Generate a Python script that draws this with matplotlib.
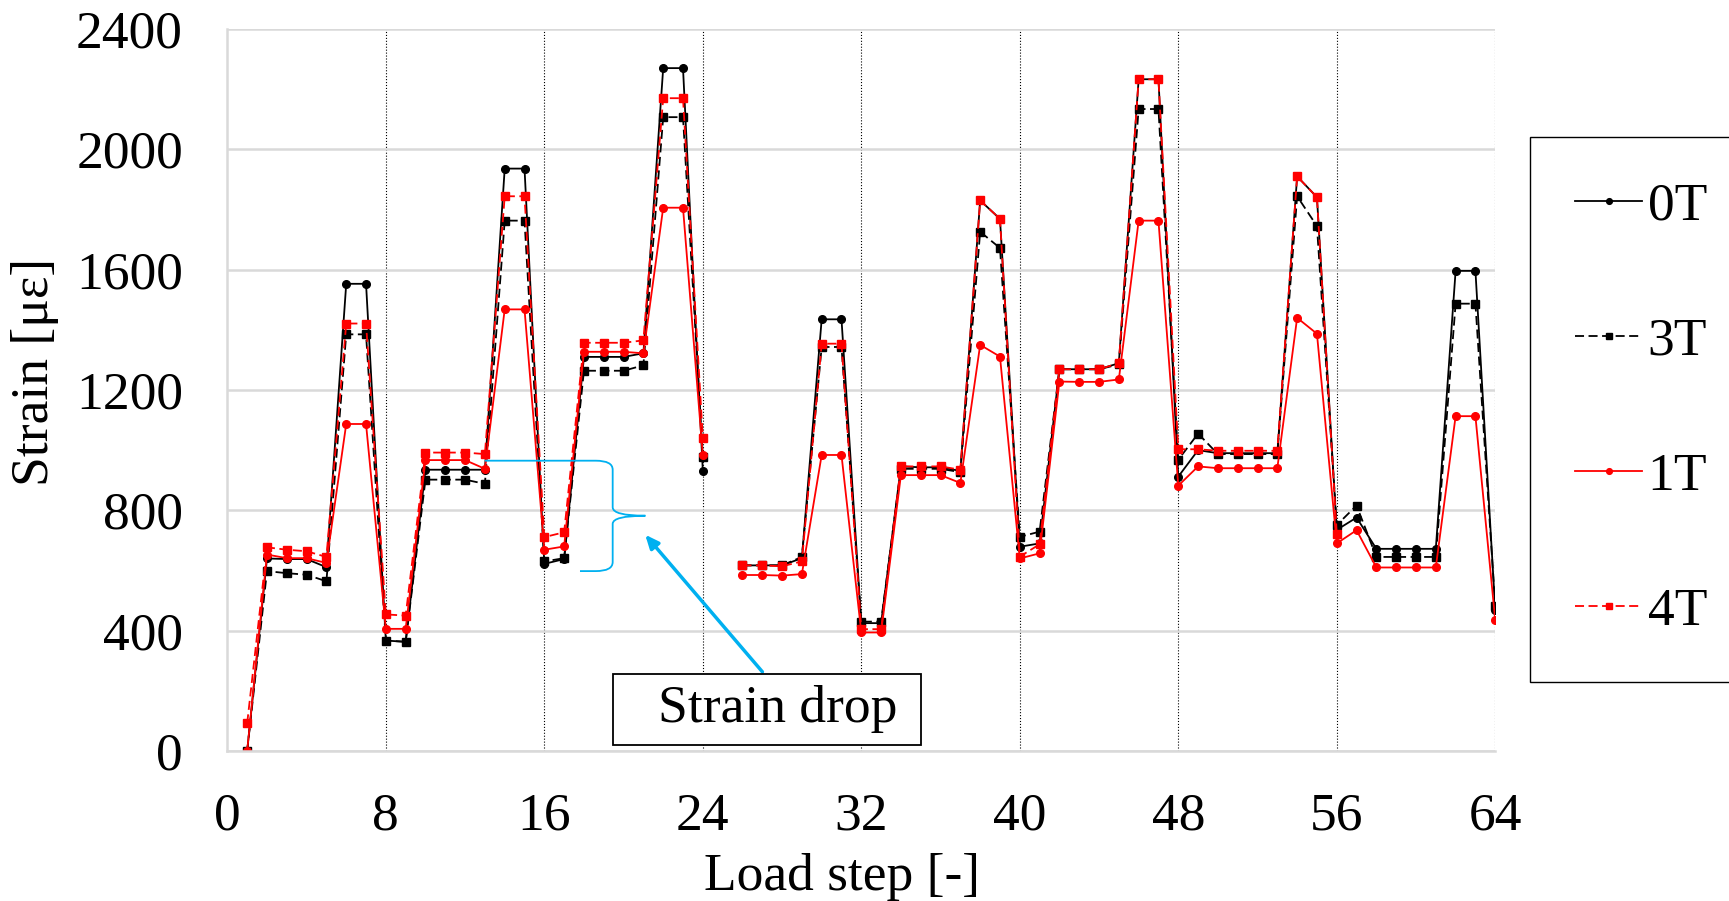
import numpy as np
import matplotlib.pyplot as plt
from matplotlib.path import Path
from matplotlib.patches import PathPatch, Rectangle

nan = np.nan

steps = np.arange(1, 65)

# strain values per load step (step 25 not recorded)
s0T = [0, 640, 638, 638, 611, 1553, 1553, 367, 363, 935, 935, 935, 935, 1936, 1936, 622,
       638, 1310, 1310, 1310, 1322, 2270, 2270, 931, nan, 617, 617, 617, 641, 1435, 1435, 425,
       425, 946, 943, 943, 931, 1830, 1769, 679, 690, 1269, 1269, 1269, 1289, 2233, 2233, 912,
       1000, 990, 990, 990, 990, 1910, 1841, 735, 776, 672, 672, 672, 672, 1596, 1596, 468]
s3T = [0, 598, 591, 586, 564, 1385, 1385, 367, 363, 902, 902, 902, 888, 1763, 1763, 630,
       641, 1264, 1264, 1264, 1282, 2107, 2107, 978, nan, 617, 617, 617, 645, 1343, 1343, 430,
       430, 938, 938, 938, 927, 1726, 1672, 712, 729, 1269, 1269, 1269, 1285, 2134, 2134, 968,
       1055, 987, 987, 987, 987, 1844, 1745, 751, 816, 645, 645, 645, 645, 1487, 1487, 481]
s1T = [0, 653, 641, 641, 625, 1087, 1087, 406, 406, 967, 967, 967, 938, 1468, 1468, 669,
       680, 1327, 1327, 1327, 1322, 1806, 1806, 983, nan, 585, 585, 583, 588, 984, 984, 394,
       394, 917, 917, 917, 891, 1350, 1311, 640, 657, 1228, 1227, 1227, 1235, 1763, 1763, 882,
       946, 940, 940, 940, 940, 1440, 1387, 690, 734, 610, 610, 610, 610, 1113, 1113, 434]
s4T = [92, 677, 669, 664, 645, 1421, 1421, 454, 450, 992, 992, 992, 987, 1844, 1844, 711,
       727, 1357, 1357, 1357, 1365, 2170, 2170, 1040, nan, 617, 617, 614, 630, 1354, 1354, 405,
       405, 946, 946, 946, 935, 1830, 1769, 646, 687, 1269, 1269, 1269, 1289, 2233, 2233, 1003,
       1003, 998, 998, 998, 998, 1910, 1841, 722]

plt.rcParams['font.family'] = ['Liberation Serif', 'DejaVu Serif']
fs = 38.5
blue = '#00B0F0'

fig = plt.figure(figsize=(17.29, 9.01), dpi=100)
ax = fig.add_axes([0.1315, 0.1665, 0.7333, 0.8013])

l0, = ax.plot(steps, s0T, color='black', lw=1.3, marker='o', ms=5.5, label='0T')
l3, = ax.plot(steps, s3T, color='black', lw=1.3, ls=(0, (5, 2.5)), marker='s', ms=5.5, label='3T')
l1, = ax.plot(steps, s1T, color='red', lw=1.3, marker='o', ms=5.5, label='1T')
l4, = ax.plot(steps[:len(s4T)], s4T, color='red', lw=1.3, ls=(0, (5, 2.5)), marker='s', ms=5.5, label='4T')

ax.set_xlim(0, 64)
ax.set_ylim(0, 2400)
ax.set_xticks(range(0, 65, 8))
ax.set_yticks(range(0, 2401, 400))
ax.tick_params(length=0, labelsize=fs)
ax.tick_params(axis='x', pad=30)
ax.tick_params(axis='y', pad=32)
ax.grid(axis='y', color='#d9d9d9', lw=1.8, zorder=0)
for xv in range(8, 65, 8):
    ax.axvline(xv, color='black', lw=0.8, ls=':', zorder=1)
for side in ['top', 'right']:
    ax.spines[side].set_visible(False)
for side in ['left', 'bottom']:
    ax.spines[side].set_color('#d9d9d9')
    ax.spines[side].set_linewidth(1.8)

ax.set_xlabel('Load step [-]', fontsize=fs, labelpad=9)
ax.set_ylabel('Strain [με]', fontsize=fs, labelpad=12)
ax.xaxis.label.set_x(0.485)
ax.yaxis.label.set_y(0.525)

# brace marking the strain drop
verts = [(13, 965), (18.6, 965), (19.45, 965), (19.45, 935), (19.45, 810),
         (19.45, 782), (21.1, 782), (19.45, 782), (19.45, 755), (19.45, 628),
         (19.45, 598), (18.6, 598), (17.8, 598)]
codes = [Path.MOVETO, Path.LINETO, Path.CURVE3, Path.CURVE3, Path.LINETO,
         Path.CURVE3, Path.CURVE3, Path.CURVE3, Path.CURVE3, Path.LINETO,
         Path.CURVE3, Path.CURVE3, Path.LINETO]
ax.add_patch(PathPatch(Path(verts, codes), fill=False, edgecolor=blue, lw=1.3, zorder=2))

ax.annotate('', xy=(21.0, 726), xytext=(27.1, 256),
            arrowprops=dict(arrowstyle='-|>,head_length=0.8,head_width=0.35', color=blue, lw=2.5),
            zorder=5)
ax.add_patch(Rectangle((19.47, 20), 15.55, 236, facecolor='white', edgecolor='black',
                       lw=1.3, zorder=6))
ax.text(27.8, 140, 'Strain drop', fontsize=fs, ha='center', va='center', zorder=7)

fig.legend(handles=[l0, l3, l1, l4], loc='upper left', bbox_to_anchor=(1530 / 1729, 1 - 137 / 901),
           fontsize=fs, frameon=True, fancybox=False, edgecolor='black', framealpha=1,
           borderpad=0.85, labelspacing=1.62, handlelength=1.25, handletextpad=0.1,
           borderaxespad=0, markerscale=0.75)

fig.savefig('out.png', dpi=100)
